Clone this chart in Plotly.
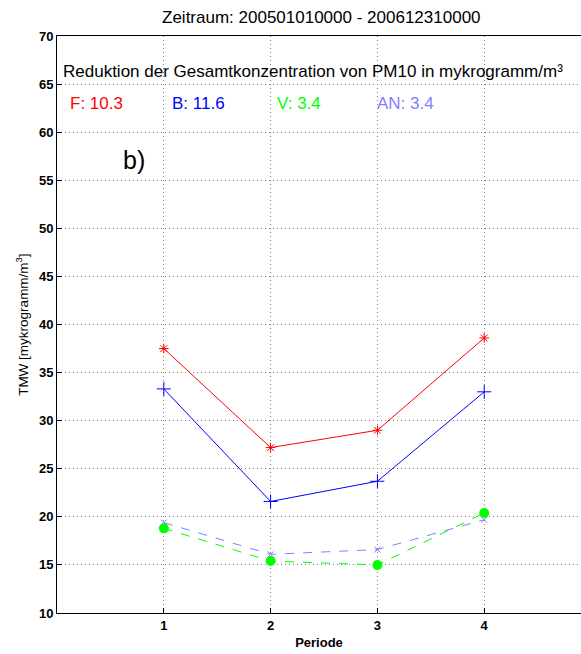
import plotly.graph_objects as go

periods = [1, 2, 3, 4]
F_vals = [37.5, 27.2, 29.0, 38.6]
B_vals = [33.3, 21.6, 23.7, 33.0]
V_vals = [18.8, 15.4, 15.0, 20.4]
AN_vals = [19.4, 16.1, 16.6, 19.7]
x_ticks = [1, 2, 3, 4]
y_ticks = [10, 15, 20, 25, 30, 35, 40, 45, 50, 55, 60, 65, 70]

FONT = "Liberation Sans, Arial, sans-serif"

fig = go.Figure()
fig.add_trace(go.Scatter(x=periods, y=F_vals, mode="lines+markers",
                         line=dict(color="#ff0000", width=1),
                         marker=dict(symbol="asterisk-open", size=8, line=dict(color="#ff0000", width=1))))
fig.add_trace(go.Scatter(x=periods, y=B_vals, mode="lines+markers",
                         line=dict(color="#0000ff", width=1),
                         marker=dict(symbol="cross-thin-open", size=10, line=dict(color="#0000ff", width=1))))
fig.add_trace(go.Scatter(x=periods, y=AN_vals, mode="lines+markers",
                         line=dict(color="#8080ff", width=1, dash="dash"),
                         marker=dict(symbol="x-thin-open", size=6, line=dict(color="#8080ff", width=1))))
fig.add_trace(go.Scatter(x=periods, y=V_vals, mode="lines+markers",
                         line=dict(color="#00ff00", width=1, dash="dash"),
                         marker=dict(symbol="circle", size=10, color="#00ff00")))

annots = [
    dict(x=0.04, y=66.26, text="Reduktion der Gesamtkonzentration von PM10 in mykrogramm/m³",
         color="black", size=17),
    dict(x=0.10, y=62.93, text="F: 10.3", color="#ff0000", size=17),
    dict(x=1.056, y=62.93, text="B: 11.6", color="#0000ff", size=17),
    dict(x=2.04, y=62.93, text="V: 3.4", color="#00ff00", size=17),
    dict(x=2.98, y=62.93, text="AN: 3.4", color="#8080ff", size=17),
    dict(x=0.60, y=57.1, text="b)", color="black", size=25),
]
for a in annots:
    fig.add_annotation(x=a["x"], y=a["y"], xref="x", yref="y", text=a["text"],
                       showarrow=False, xanchor="left", yanchor="middle",
                       font=dict(family=FONT, size=a["size"], color=a["color"]))

fig.add_annotation(x=-0.068, y=0.5, xref="paper", yref="paper",
                   text="TMW [mykrogramm/m<sup>3</sup>]", textangle=-90,
                   showarrow=False, xanchor="center", yanchor="middle",
                   font=dict(family=FONT, size=13.5, color="black"))

fig.update_layout(
    width=581, height=654,
    margin=dict(l=57, r=0, t=36, b=41),
    paper_bgcolor="white", plot_bgcolor="white",
    showlegend=False,
    title=dict(text="Zeitraum: 200501010000 - 200612310000", x=0.553, xanchor="center",
               y=0.974, yanchor="middle", font=dict(family=FONT, size=17, color="black")),
    font=dict(family=FONT, size=13, color="black"),
)
fig.update_xaxes(range=[0, 4.906], tickvals=x_ticks, ticktext=[str(t) for t in x_ticks],
                 tickfont=dict(family=FONT, size=13, weight="bold"),
                 showline=True, linecolor="black", linewidth=1, mirror=True,
                 ticks="inside", ticklen=5, tickcolor="black",
                 showgrid=True, gridcolor="#808080", griddash="1px,3px", gridwidth=1,
                 zeroline=False,
                 title=dict(text="Periode", font=dict(family=FONT, size=13, weight="bold"), standoff=6))
fig.update_yaxes(range=[10, 70], tickvals=y_ticks,
                 tickfont=dict(family=FONT, size=13, weight="bold"),
                 showline=True, linecolor="black", linewidth=1,
                 ticks="inside", ticklen=5, tickcolor="black",
                 showgrid=True, gridcolor="#808080", griddash="1px,3px", gridwidth=1,
                 zeroline=False)

fig.write_html("out.html", config={"displayModeBar": False},
               post_script="document.body.style.margin='0';document.body.style.overflow='hidden';")
